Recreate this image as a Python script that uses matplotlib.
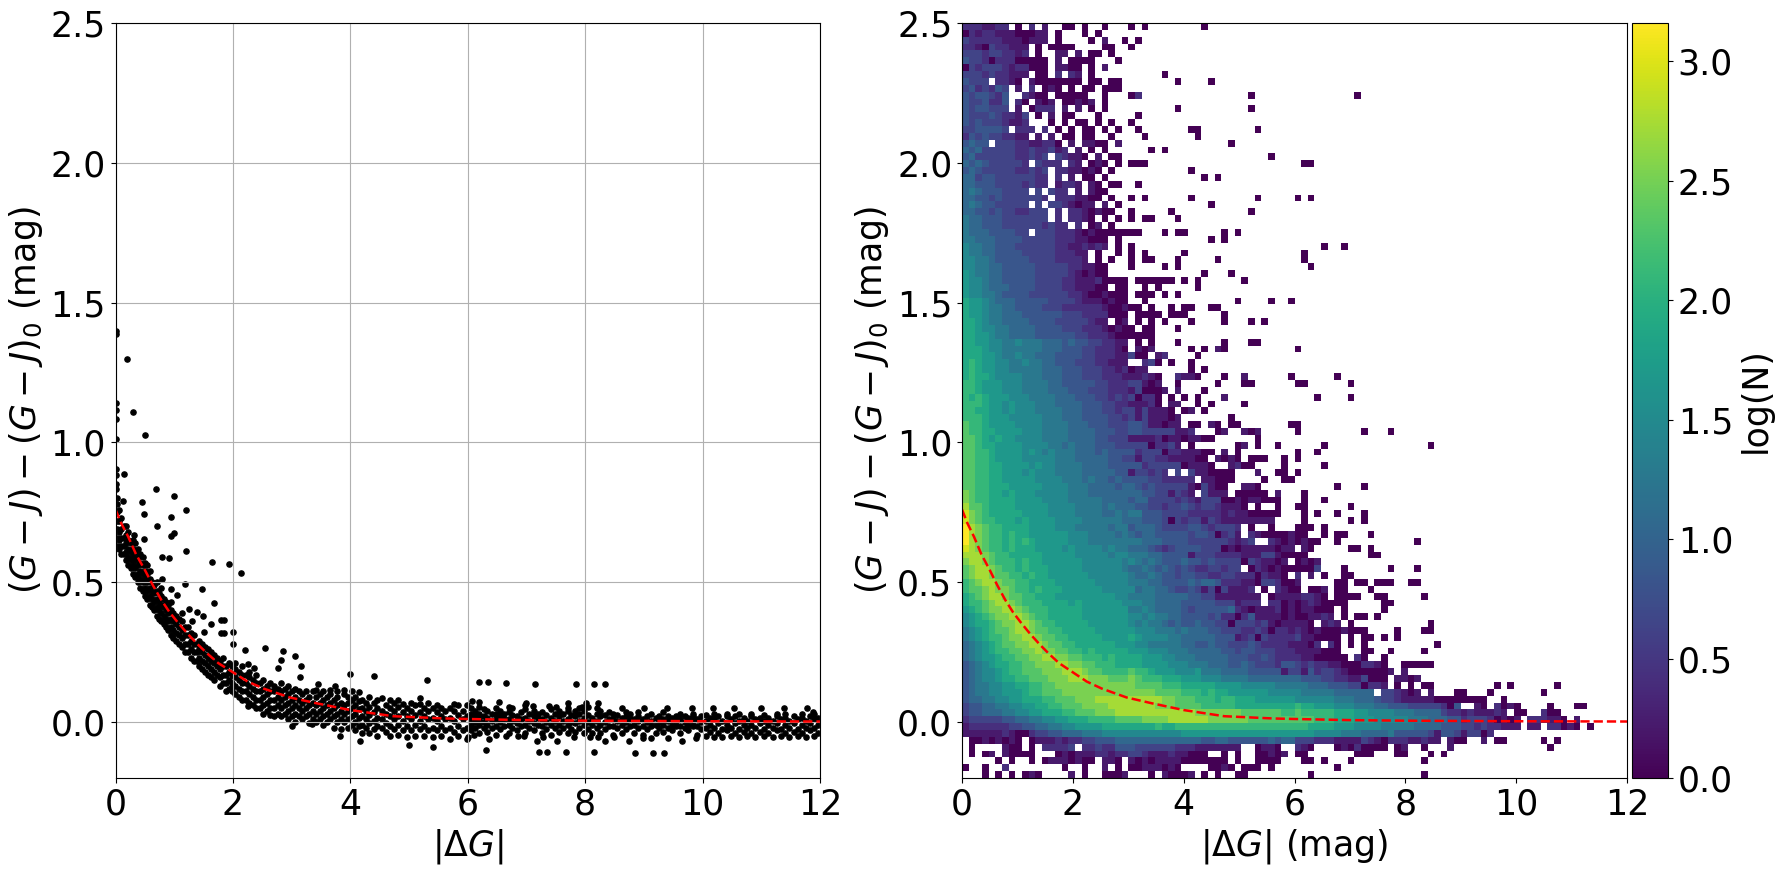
import numpy as np
import matplotlib
matplotlib.use('Agg')
import matplotlib.pyplot as plt

# red fitted curve
curve_x = [0.0, 0.1, 0.216, 0.35, 0.5, 0.64, 0.78, 0.92, 1.07, 1.24, 1.41, 1.58, 1.75, 2.0, 2.25, 2.52, 2.97, 3.43, 4.0, 4.73, 5.6, 6.0, 7.0, 8.0, 10.0, 12.0]
curve_y = [0.76, 0.71, 0.663, 0.6, 0.544, 0.488, 0.437, 0.393, 0.354, 0.313, 0.276, 0.242, 0.211, 0.178, 0.145, 0.12, 0.088, 0.067, 0.043, 0.021, 0.013, 0.011, 0.007, 0.005, 0.003, 0.002]

# left panel, points away from the main band
outlier_x = [0, 0, 0.2, 0, 0, 0.3, 0, 0, 0.51, 0, 0.15, 0, 0, 0, 0.69, 1.0, 0.13, 0.45, 1.2, 0.49, 0.95, 0.71, 1.0, 0.95, 0.49, 0.32, 1.2, 0.8, 0.91, 1.65, 1.94, 2.14, 0.8, 1.19, 1.48, 0.95, 1.05, 1.68, 1.26, 1.38, 1.49, 1.31, 1.63, 1.8, 1.85, 1.8, 1.85, 2.0, 1.51, 2.0, 2.21, 2.55, 2.86, 3.05, 2.82, 3.16, 2.76, 2.26, 2.36, 3.15, 4.0, 4.41, 5.31, 3.45, 3.74, 4.15, 5.18, 2.26, 3.01, 3.35, 3.83, 4.17, 5.0, 5.41, 2.64]
outlier_y = [1.40, 1.387, 1.3, 1.14, 1.115, 1.11, 1.083, 1.013, 1.025, 0.904, 0.886, 0.883, 0.853, 0.835, 0.832, 0.81, 0.789, 0.786, 0.757, 0.743, 0.732, 0.7, 0.675, 0.664, 0.654, 0.668, 0.611, 0.589, 0.586, 0.571, 0.564, 0.532, 0.513, 0.493, 0.475, 0.475, 0.454, 0.425, 0.404, 0.393, 0.379, 0.361, 0.35, 0.364, 0.364, 0.318, 0.318, 0.322, 0.322, 0.279, 0.257, 0.264, 0.254, 0.236, 0.221, 0.2, 0.193, 0.206, 0.195, 0.16, 0.171, 0.164, 0.149, 0.135, 0.128, 0.108, 0.085, 0.056, -0.015, -0.008, -0.051, -0.066, -0.083, -0.09, 0.027]

far_x = [6.2, 6.34, 6.66, 7.14, 7.84, 8.15, 8.34, 6.31, 7.21, 7.35, 7.67, 8.15, 8.85, 9.15, 9.34, 6.07, 6.2, 6.53, 6.71, 7.0, 7.11, 7.39, 7.5, 7.7, 7.94, 8.01, 8.22, 8.62, 9.0, 9.39, 9.82, 10.18, 10.53, 10.99, 11.39, 11.78, 11.88, 6.0, 6.11, 6.36, 6.65, 6.85, 6.96, 7.18, 7.28, 7.52, 7.81, 8.09, 8.22, 8.34, 8.49, 8.74, 8.98, 9.12, 9.41, 9.65, 9.89]
far_y = [0.145, 0.142, 0.138, 0.137, 0.135, 0.135, 0.135, -0.101, -0.106, -0.108, -0.108, -0.108, -0.112, -0.112, -0.112, 0.077, 0.073, 0.073, 0.055, 0.07, 0.057, 0.057, 0.055, 0.067, 0.055, 0.067, 0.067, 0.05, 0.052, 0.052, 0.049, 0.051, 0.049, 0.049, 0.049, 0.049, 0.035, -0.052, -0.046, -0.062, -0.051, -0.05, -0.05, -0.066, -0.055, -0.066, -0.055, -0.055, -0.055, -0.069, -0.055, -0.069, -0.058, -0.058, -0.058, -0.069, -0.058]

# main band of the left panel, one x with the y values stacked at it
band_x = [0.02, 0.06, 0.1, 0.14, 0.18, 0.22, 0.26, 0.3, 0.34, 0.38, 0.42, 0.46, 0.5, 0.54, 0.58, 0.62, 0.66, 0.7, 0.74, 0.78, 0.82, 0.86, 0.9, 0.94, 0.98,
          1.03, 1.08, 1.13, 1.18, 1.23, 1.28, 1.33, 1.38, 1.43, 1.48, 1.53, 1.58, 1.63, 1.68, 1.73, 1.78, 1.83, 1.88, 1.93, 1.98,
          2.04, 2.1, 2.16, 2.22, 2.28, 2.34, 2.4, 2.46, 2.52, 2.58, 2.64, 2.7, 2.76, 2.82, 2.88, 2.94, 3.0, 3.06, 3.12, 3.18, 3.24, 3.3, 3.36, 3.42, 3.48, 3.54, 3.6, 3.66, 3.72, 3.78, 3.84, 3.9, 3.96,
          4.02, 4.08, 4.14, 4.2, 4.26, 4.32, 4.4, 4.46, 4.54, 4.6, 4.68, 4.74, 4.82, 4.9, 4.96, 5.04, 5.1, 5.18, 5.26, 5.32, 5.4, 5.48, 5.54, 5.62, 5.7, 5.76, 5.84, 5.92, 5.98]
band_y = [[.63, .66, .69, .72, .75, .78, .8], [.62, .65, .68, .72, .76], [.6, .63, .66, .69, .73], [.6, .63, .66, .7], [.58, .61, .64, .67, .7],
          [.56, .59, .62, .65, .68], [.55, .58, .61, .64], [.53, .56, .59, .62, .65], [.52, .55, .58, .61, .64], [.5, .53, .56, .59, .62],
          [.48, .51, .54, .57, .6], [.47, .5, .53, .56, .59], [.45, .48, .51, .54, .57], [.44, .47, .5, .53, .56], [.42, .45, .48, .51, .54],
          [.41, .44, .47, .5], [.4, .43, .46, .49], [.38, .41, .44, .47, .5], [.37, .4, .43, .46], [.36, .39, .42, .45, .48],
          [.35, .38, .41, .44], [.34, .37, .4, .43], [.33, .36, .39, .42], [.31, .34, .37, .4, .43], [.3, .33, .36, .39],
          [.29, .32, .35, .38], [.28, .31, .34, .37], [.27, .3, .33, .36, .39], [.25, .28, .31, .34], [.25, .28, .31, .34],
          [.23, .26, .29, .32], [.22, .25, .28, .31], [.22, .25, .28], [.2, .23, .26, .29], [.19, .22, .25, .28],
          [.18, .21, .24, .27], [.17, .2, .23, .26], [.16, .19, .22, .25], [.15, .18, .21, .24], [.17, .2, .23],
          [.13, .16, .19, .22], [.14, .17, .2, .23], [.11, .14, .17, .2], [.12, .15, .18, .21], [.11, .13, .14, .17, .2],
          [.1, .13, .16, .19, .21], [.09, .12, .15, .18], [.08, .11, .14, .17, .2], [.08, .11, .14, .17], [.07, .1, .13, .16, .18],
          [.06, .09, .12, .15], [.05, .08, .11, .14, .17], [.05, .08, .11, .14], [.03, .06, .09, .12, .15], [.04, .07, .1, .13],
          [.05, .08, .11, .14], [.02, .05, .08, .11, .13], [.03, .06, .09, .12], [.02, .05, .08, .11, .14], [.03, .06, .09, .12],
          [.01, .04, .07, .1, .13], [.02, .05, .08, .11], [0, .03, .06, .09, .12], [.02, .05, .08, .11], [.01, .04, .07, .1],
          [.02, .05, .08, .11], [-.005, .03, .06, .09], [.01, .04, .07, .11], [0, .03, .06, .09, .115], [.01, .04, .07, .1],
          [-.01, .02, .05, .08, .11], [0, .03, .06, .09], [.01, .04, .07, .1, .115], [-.02, .02, .05, .08], [0, .03, .06, .09, .11],
          [-.025, .01, .04, .07], [0, .03, .06, .1, .115], [-.02, .01, .04, .07, .09],
          [-.01, .02, .05, .08, .11], [-.03, 0, .03, .06, .09], [-.015, .015, .045, .075], [-.04, -.01, .02, .05, .08], [-.02, .01, .04, .07],
          [-.04, -.005, .025, .055, .09], [-.025, .005, .035, .07], [-.05, -.015, .015, .05, .08], [-.02, .01, .04, .085], [-.035, -.005, .03, .06],
          [-.05, -.015, .02, .05, .08], [-.025, .01, .04, .07], [-.045, -.01, .02, .055, .08], [-.03, .005, .035, .065], [-.055, -.015, .02, .05],
          [-.03, .01, .04, .07], [-.05, -.01, .025, .06], [-.025, .005, .035, .065], [-.05, -.015, .02, .05], [-.03, .01, .04, .07],
          [-.055, -.02, .015, .05], [-.03, .005, .035, .06], [-.05, -.015, .02, .05], [-.03, .01, .04], [-.06, -.02, .015, .05],
          [-.035, .005, .04, .065], [-.05, -.015, .025, .06], [-.03, .01, .04], [-.06, -.02, .02, .06]]

tail_x = [6.05, 6.12, 6.2, 6.27, 6.33, 6.41, 6.48, 6.55, 6.62, 6.7, 6.76, 6.84, 6.9, 6.98, 7.05, 7.12, 7.2, 7.26, 7.33, 7.41, 7.48, 7.55, 7.62, 7.7, 7.76, 7.83, 7.9, 7.98,
          8.05, 8.12, 8.2, 8.26, 8.33, 8.41, 8.48, 8.55, 8.62, 8.7, 8.76, 8.83, 8.9, 8.98, 9.05, 9.12, 9.2, 9.26, 9.33, 9.41, 9.48, 9.55, 9.62, 9.7, 9.76, 9.83, 9.9, 9.98,
          10.05, 10.12, 10.2, 10.26, 10.33, 10.41, 10.48, 10.55, 10.62, 10.7, 10.76, 10.83, 10.9, 10.98, 11.05, 11.12, 11.2, 11.26, 11.33, 11.41, 11.48, 11.55, 11.62, 11.7, 11.76, 11.83, 11.9, 11.97]
tail_y = [[-.03, -.01, .01, .03, .05], [-.02, .0, .02, .04], [-.04, -.01, .01, .03, .055], [-.02, .0, .02, .045], [-.035, -.01, .015, .04], [-.02, .005, .03], [-.045, -.015, .01, .03, .05], [-.025, .0, .02, .04],
          [-.015, .01, .03], [-.04, -.01, .01, .035], [-.02, .005, .025, .05], [-.03, -.005, .02], [-.015, .01, .035], [-.04, -.01, .015, .045, .06], [-.02, .005, .03], [-.03, -.005, .02, .04], [-.01, .015, .03], [-.04, -.015, .01, .035],
          [-.025, .0, .025], [-.045, -.01, .015, .045], [-.02, .005, .03], [-.035, -.01, .02, .04], [-.02, .005, .03], [-.04, -.01, .01, .04, .05], [-.025, .0, .025], [-.035, -.005, .02, .04], [-.02, .005, .03, .05], [-.04, -.01, .015, .04],
          [-.025, .0, .025, .055], [-.04, -.01, .015], [-.02, .005, .03, .05], [-.04, -.01, .02, .04], [-.025, .0, .025], [-.015, .01, .035], [-.045, -.015, .01, .03], [-.02, .005, .025], [-.04, -.01, .015], [-.025, .0, .02, .035],
          [-.015, .01, .03], [-.04, -.01, .01], [-.02, .005, .02, .035], [-.045, -.015, .01], [-.025, .0, .02], [-.015, .005, .03], [-.04, -.01, .015], [-.02, .0, .02], [-.035, -.01, .01, .035], [-.02, .005, .02], [-.03, -.01, .015], [-.015, .005, .02],
          [-.04, -.015, .01, .03], [-.02, .0, .02], [-.03, -.01, .015], [-.015, .005, .02, .03], [-.045, -.015, .01], [-.025, .0, .02],
          [-.05, -.02, .005, .025], [-.035, -.01, .015], [-.055, -.02, .01, .03], [-.04, -.005, .02], [-.055, -.025, .005], [-.03, -.01, .02, .03], [-.05, -.02, .01], [-.04, -.005, .02], [-.055, -.025, .005, .03], [-.035, -.01, .015],
          [-.05, -.02, .005], [-.04, -.01, .02, .03], [-.055, -.02, .01], [-.035, -.005, .015], [-.05, -.025, .005, .025], [-.04, -.01, .015], [-.055, -.02, .005], [-.03, -.005, .02, .03], [-.05, -.025, .01], [-.04, -.01, .015, .03], [-.055, -.02, .005], [-.035, -.005, .02],
          [-.05, -.025, .01], [-.04, -.01, .015, .03], [-.055, -.02, .005], [-.03, -.005, .02], [-.05, -.02, .01, .03], [-.04, -.01, .015]]

# right panel cells, top row first, one hex digit per cell (0-f), '.' = empty
heat_rows = [
    "2221122.0.2.1..00.0..0...",
    "0212211100011.0...0.0....",
    "3222221110111.0....0.1..0",
    "2210322111.0.0000....00..",
    "3332332212.0..11.1.00.0..",
    "4332022200000.1.0000...0.",
    "0323332122000.1100.0.1...",
    "3332322111.00.2.21.0.....",
    "4333.2210.10000000.00.00.",
    "3423243.1.2.010.0.00.000.",
    "4344324..2100.00000..0..." + ".2",
    "4334224.20.101.00101.0...",
    "4344333.1.0222.1.1.0.0..",
    "4333432213.0.1.00...0....",
    "4343332112...0.0.00.0.0..",
    "3344443.222.2.0.0.00.0.0.",
    "2434332211.1.1.00.00..0..",
    "4544.3332211220.1.1100.1.",
    "5453333322322312.1.0.0...",
    "4533333322323.32110.1.00.",
    "5454333332.3222.21.010.0.",
    "4543333322323.2211010.0..",
    "5534433333322.2.1.00.0...",
    "5544433332322.1221.10.00.",
    "5654443333.3.322.1.100...",
    "5544343333332.2221100.0..",
    "5654433333.3.3321011.1.0.",
    "5544343322333.2.2210100..",
    "6554443333333.2.2210.0.0.",
    "6554443333332322.2.01.0..",
    "6555444433.33322210100000",
    "6655544443333322211000.0.",
    "7665544433333322112121.0.",
    "7665544443333322211.0..0.",
    "7766544444333322221.0.0..",
    "7766554444433333221100...",
    "8766554444433333210100...",
    "8776554444433332211120000",
    "8776555444433332211100.00",
    "8776654444333333221001000",
    "9887655544444333321110100",
    "9887665544443332222221001",
    "9887665554444443332222000",
    "9987665555444433333211.01",
    "9987766555544443332221010",
    "9988766555544444433222100",
    "9988776676665554544332211" + ".0.0...0......0...00",
    "9998776666665554443322210" + ".101.....0.0.10",
    "9998876676655544443322211" + "300.12....0",
    "9a98877667665544433322111" + "..230.0..0",
    "9a98877666665554443332212" + "011......0.0",
    "9a99877776665554443332221" + "11210..2110...0..1",
    "aa98887776666554444433222" + "33101..0.....0...00",
    "aa98887776666555444333222" + "130001.1...0",
    "a9a9888777666655544433232" + "30220.0.0.0...1",
    "aaa9887877766655554443322" + "11120.11..0.0....0",
    "aa99887877766665554443323" + "3131110.01.0",
    "aaa9888777776665554444332" + "31311101.......0",
    "baa9888877776666555444333" + "44311011.00.10.00",
    "baa9988887776666555544433" + "4433333112...01..101",
    "bba9898877776666555544333" + "1111201101100",
    "bba9988887777665655544433" + "33302231.0......01.0..0",
    "bbaa988887876766655545444" + "4233302211100.1.0",
    "bbaa988887777766655555443" + "31332211110 0.1010.000".replace(" ", ""),
    "bbaa998888787766665555444" + "4423333301110..1200",
    "bbaa998887877766665555544" + "133232.3.311000 0...1".replace(" ", ""),
    "bbaa998888877776665655454" + "4443322222.11000....0",
    "bbaa999888887777666555545" + "543433333103100..110",
    "cbaa998988877777666555555" + "5544331321.3111.00000.1",
    "cbaa999988887777666665555" + "45533332321333001011000",
    "dbba999988888777766665655" + "544332334323321110.0..0",
    "ecba999998888777766665565" + "66444333322222121100000",
    "ecbaa9998988887777666666" + "55544430323313211111111",
    "fdcbaa999988887776666656" + "6455543333443233 32.0..0".replace(" ", ""),
    "fdcbaa9a998888887776666" + "565455444443443023 1.2100001 00".replace(" ", ""),
    "fdcbaa9a9a988888777666666" + "6655544443333332123..2101010 0".replace(" ", ""),
    "edcbaa9a99988887877776766" + "55543234444333010111110 11.10".replace(" ", ""),
    "dddcbaa999998888877777677" + "666554444133322 22111331000 0".replace(" ", ""),
    "cddcbaaa9a998888887777776" + "76565444544343333032110 1.0101".replace(" ", ""),
    "bcddcbaa9a999888887777776" + "55654543432233233.0210100000 3".replace(" ", ""),
    "bcddcbbaa9a99888888777777" + "6556544344332233222021 10.2.1.0".replace(" ", ""),
    "abcddcbbaa999988888877777" + "66655444454554222110332001",
    "abbcdccbaa9a9998888887777" + "75665543343130311 12.0.2100.001".replace(" ", ""),
    "9abcddcbbaa99988888888877" + "6666555554433111 1111.01111221 0.0".replace(" ", ""),
    "9aabcddcbaaa9999898888887" + "776655554444433312 22.220101 21000".replace(" ", ""),
    "89abccddcbaaa999998888888" + "6676555543444445210111201011000",
    "789abccddcbaa999998888888" + "77676655444434220241111010011 21".replace(" ", ""),
    "7899abccddcbaa99999888888" + "7676654544544330333231011110.121",
    "6789abbcddcbbaa9999988888" + "87776665655544333223202212101 00 01".replace(" ", ""),
    "6789aabccddcbbaa999998888" + "98777766555554441230322223110 00 0".replace(" ", ""),
    "56789abbccddcbbaa99999988" + "8776666655445443334322221110 2.20".replace(" ", ""),
    "56789aabbccdccbbaa9a99999" + "88877766655555443443332221 1 1 1 0 0 0".replace(" ", ""),
    "567889aabbccddccbbaaa9a99" + "99888776665555 54443343222 2 1 1 0 0 0 0 0.20".replace(" ", ""),
    "4567899aabbcccddccbbaaa99" + "99888877766655544543332 44 3 2 3 2 2 1 1 0 0 0 2 2 1 0..00000".replace(" ", ""),
    "4567789aabbbcccdddcbbaaaa" + "baa988877786665555444441331 42 33210 00000 1.1".replace(" ", ""),
    "45677899aabbbcccdddcccbbb" + "cbaaa99988877766 66 5 5 5 5 5 5 5 5 4 4 4 3 3 2 2 1 1 3 0 0 0 . 1 1 0 1".replace(" ", ""),
    "4566778899aabbccccccccccc" + "cbbbbaaa999998888777776 6 6 6 6 5 5 5 4 4 4 3 3 0 2 2 1 . 0 . 0 . 0 0".replace(" ", ""),
    "4566778889aabbbcccccccccc" + "ccccbbbbaaa9a998888887777" + "766666555555.332101.1...00...0",
    "455667788999aabbbcccddddd" + "dddddccbbbaaa9aa999888888" + "7777776665554332111110 0000000..0".replace(" ", ""),
    "3445566778899aabbbccccddd" + "ddddcccbbbbaaaaa999999999" + "a99888777666554443 33332 04..10.2010".replace(" ", ""),
    "344555667788999aabbbcccdd" + "ddddddddddcccccccbbbbbbaa" + "baaaaa9998877776665555322121 1 1 2 1.00..200".replace(" ", ""),
    "2333334455667788999aaaabb" + "bbccccddddddccccccbbbbbbb" + "bbbaaa999888777776665 5 5 4 4 2 3 3 3 2 0 1 0 1.222110.1".replace(" ", ""),
    "1222222334455667788889999" + "9999a99aaaaaaaaaaaaaaaaaa" + "aa99998887777666665555444 33 2 3 2 2 1 1 1.11.220 1 0.0".replace(" ", ""),
    "1111112100233445556667777" + "7777777788888888888888888" + "888777766655556444443 1 4 4 3 1 3 3 0 2".replace(" ", ""),
    ".00101010.011121223344455" + "5555555555544554444445455" + "33322 21111 32102 22112 11.10 0..1.00".replace(" ", ""),
    ".0....100.0.2222 3.22 3224".replace(" ", "") + "44333 33322 21111 111..01 10.".replace(" ", "") + ".2 10...010 2000 0.01..0...1".replace(" ", ""),
    ".0.01.1000 0...0101112212 2".replace(" ", "") + "33211 12110 00..0.0..0 0101.".replace(" ", "") + "00.......000...00...0.0",
    ".....0.0..0.0111 0100.110.".replace(" ", "") + "10101 11100 00000.0..0 000..".replace(" ", "") + ".00.0...0..........0",
    "0..0..2........0..0..1.0." + "00111 010.. ..001 0.000 .0".replace(" ", ""),
    "...0.0.0.010....1.0..0001" + "...0.1000 1.0.0..00".replace(" ", ""),
]

# single count cells further out: row number, then columns in that row
lone_row = [0, 2, 3, 7, 8, 10, 12, 13, 14, 15, 16, 17, 18, 19, 20, 21, 22, 23, 25, 26, 27, 28, 30, 31, 32, 33, 34, 35, 36, 37, 38, 39, 40, 41, 42, 43, 44, 45,
            47, 51, 52, 54, 58, 59, 60, 61, 62, 63, 64, 65, 66, 67, 68, 69, 70, 71, 72, 73, 74, 75, 76, 77, 79, 80, 81, 82, 83, 84, 85, 86, 87, 88, 89, 90, 91, 92, 96, 97, 99, 104, 105, 108, 109]
lone_col = [[25, 27, 36], [26], [25], [30], [32, 37], [25, 43, 59], [32, 43], [26], [25], [26, 34, 35, 44], [27, 35], [40], [28, 30], [46], [25, 26, 27, 51, 52], [34], [36, 38], [26],
            [25, 27, 34, 44, 50, 52], [37], [25, 31, 43], [25, 27, 28, 32], [25, 26, 30, 32, 33, 39, 41], [37, 39], [25, 54, 57], [25, 27, 33, 51], [25, 27, 28, 32, 38, 51], [25, 30, 32, 52], [36, 40],
            [26, 27, 28, 29, 30, 31, 33, 35, 42], [27, 29, 35], [26, 27, 28, 30, 32], [27, 41, 46, 49], [25, 26, 28, 31, 33, 34, 37, 38], [26, 27, 28, 29, 31, 32, 33, 39], [26, 28, 30, 34, 39, 43, 45], [25, 27, 28, 32], [25, 26, 27, 28],
            [50], [49, 56], [50, 51, 58], [53, 58], [49, 50], [50, 60, 64], [44], [54, 70], [50, 53], [48, 50], [48, 54], [47, 48, 50], [48, 49], [56, 60], [51], [51, 54], [50, 51, 58], [51, 53, 56, 60], [51, 58, 60], [50, 51, 52, 54],
            [54, 56, 57, 61], [56, 68], [58, 59, 61], [61, 62], [57, 64, 68], [57, 58], [56, 57, 59, 60, 62, 63, 64, 67, 68], [56, 57, 61], [57, 58, 59, 62, 63, 69], [57, 63, 64], [57, 63], [57, 59, 60, 62], [58, 70], [58, 59, 60, 65, 69, 70],
            [58, 60, 61, 63, 65], [58, 60, 71], [60, 61, 64, 69], [63], [80, 82, 89], [87], [88, 92, 93], [87, 89], [88], [56], [52, 69]]

LEVEL = 0.21  # log(N) per hex digit
FS = 25
DOT = 14

def build_grid():
	grid = np.full((110, 100), np.nan)
	for r, row in enumerate(heat_rows):
		for c, ch in enumerate(row[:100]):
			if ch != '.':
				grid[r, c] = int(ch, 16) * LEVEL
	for r, cols in zip(lone_row, lone_col):
		for c in cols:
			grid[r, c] = 0.0
	return np.ma.masked_invalid(grid[::-1])

fig = plt.figure(figsize=(17.76, 8.74), dpi=100)
W, H = 1776.0, 874.0
bottom = (874 - 778) / H
height = 755 / H

# left panel
ax1 = fig.add_axes([115.5 / W, bottom, 704.5 / W, height])
ax1.scatter(outlier_x, outlier_y, s=DOT, c='k')
ax1.scatter(far_x, far_y, s=DOT, c='k')
xs = [x for x, ys in zip(band_x, band_y) for _ in ys] + [x for x, ys in zip(tail_x, tail_y) for _ in ys]
ys_flat = [y for ys in band_y for y in ys] + [y for ys in tail_y for y in ys]
ax1.scatter(xs, ys_flat, s=DOT, c='k')
ax1.plot(curve_x, curve_y, 'r--', lw=1.8)
ax1.grid(True)
ax1.set_xlim(0, 12)
ax1.set_ylim(-0.2, 2.5)
ax1.set_xlabel(r'$|\Delta G|$', fontsize=FS)
ax1.set_ylabel(r'$(G-J)-(G-J)_0$ (mag)', fontsize=FS)
ax1.tick_params(labelsize=FS)

# right panel
ax2 = fig.add_axes([962 / W, bottom, 665 / W, height])
xedges = np.linspace(0, 12, 101)
yedges = np.linspace(-0.2, 2.5, 111)
mesh = ax2.pcolormesh(xedges, yedges, build_grid(), cmap='viridis', vmin=0, vmax=3.16)
ax2.plot(curve_x, curve_y, 'r--', lw=1.8)
ax2.set_xlim(0, 12)
ax2.set_ylim(-0.2, 2.5)
ax2.set_xlabel(r'$|\Delta G|$ (mag)', fontsize=FS)
ax2.set_ylabel(r'$(G-J)-(G-J)_0$ (mag)', fontsize=FS)
ax2.tick_params(labelsize=FS)

cax = fig.add_axes([1632 / W, bottom, 36 / W, height])
cbar = fig.colorbar(mesh, cax=cax)
cbar.set_ticks([0, 0.5, 1.0, 1.5, 2.0, 2.5, 3.0])
cbar.ax.tick_params(labelsize=FS)
cbar.set_label('log(N)', fontsize=FS)

fig.savefig('out.png', dpi=100)
